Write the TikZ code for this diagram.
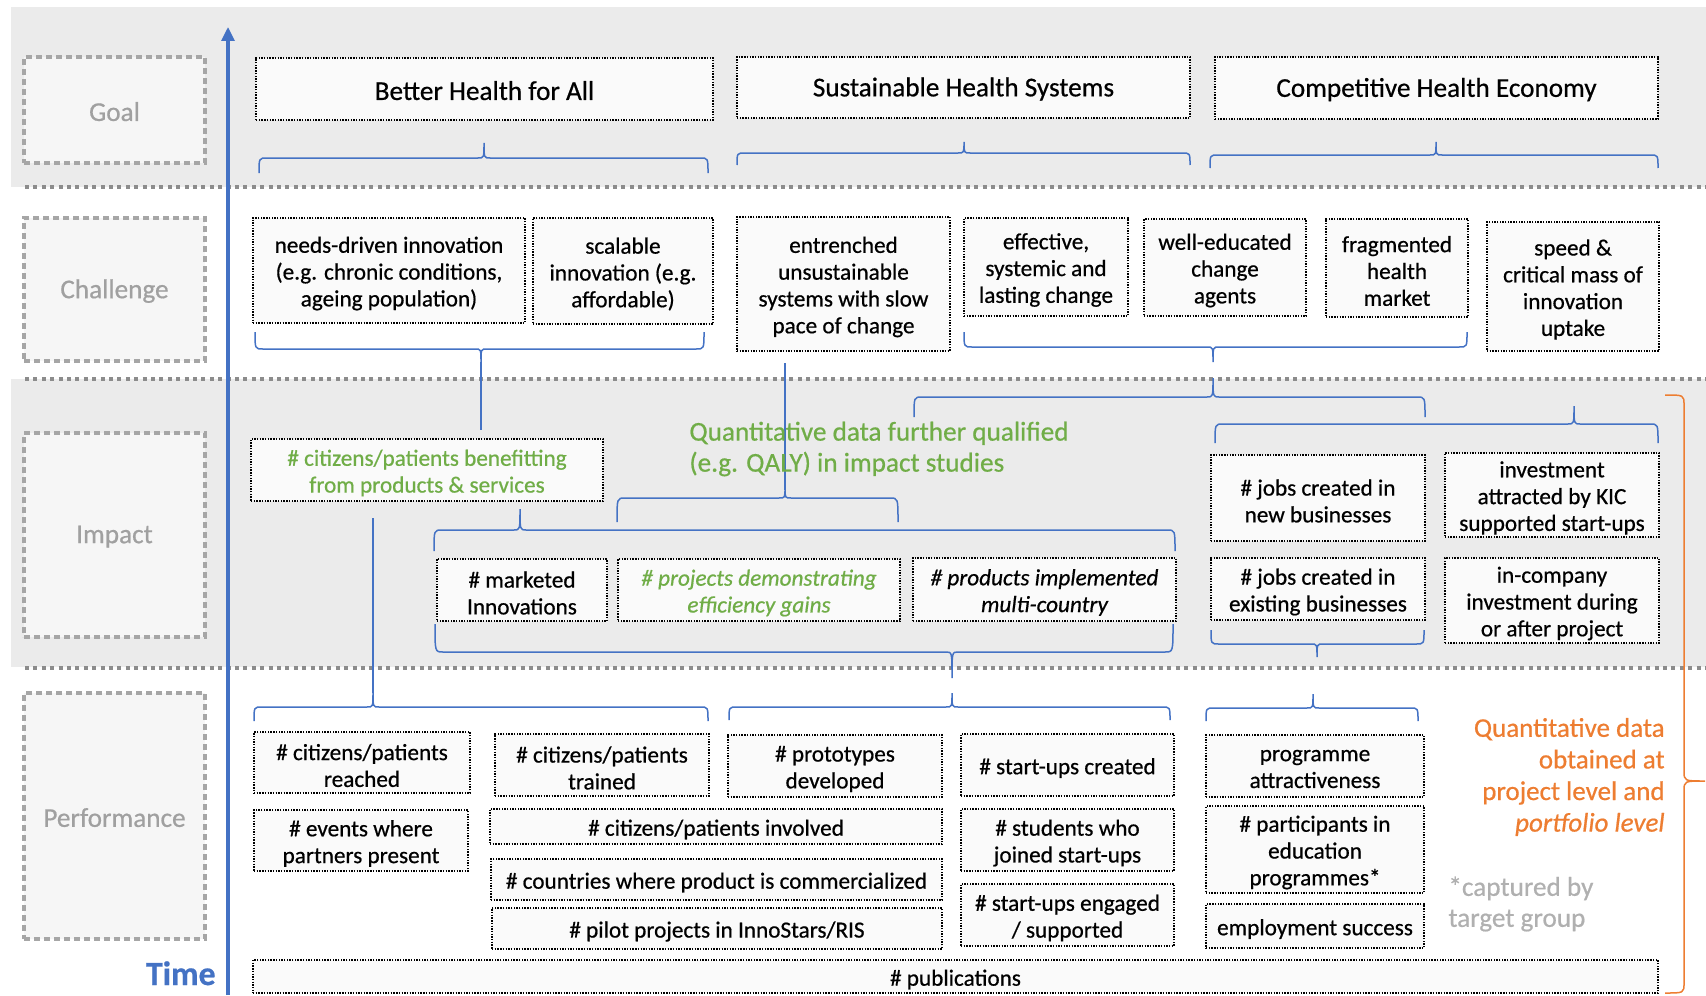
\documentclass[tikz,border=0pt]{standalone}
\usepackage{fontspec}
\setmainfont{Carlito}[FakeBold=0.6]
\usetikzlibrary{arrows.meta}
\definecolor{bandgray}{HTML}{EBEBEB}
\definecolor{boxfill}{HTML}{FAFAFA}
\definecolor{lblfill}{HTML}{F6F6F6}
\definecolor{lblgray}{HTML}{A6A6A6}
\definecolor{lbltext}{HTML}{A0A0A0}
\definecolor{sepgray}{HTML}{8C8C8C}
\definecolor{braceblue}{HTML}{4472C4}
\definecolor{qgreen}{HTML}{70AD47}
\definecolor{qorange}{HTML}{ED7D31}
\definecolor{notegray}{HTML}{B0B0B0}
\newcommand{\bodyfont}{\fontsize{11.6}{13.4}\selectfont}
\tikzset{
  box/.style={draw=black, line width=1pt, dash pattern=on 0.7pt off 0.65pt, fill=boxfill, inner sep=0pt},
  boxtext/.style={inner sep=0pt, align=center, font=\bodyfont, yshift=-1.5pt},
  title/.style={font=\fontsize{13.6}{15.5}\selectfont, yshift=0.7pt},
  lbl/.style={draw=lblgray, line width=2pt, dash pattern=on 3pt off 2pt, fill=lblfill, inner sep=0pt},
  lbltxt/.style={text=lbltext, font=\fontsize{13.6}{15.5}\selectfont, inner sep=0pt, yshift=-0.8pt},
  greentext/.style={text=qgreen},
  greenit/.style={text=qgreen, font=\bodyfont\itshape},
  itbox/.style={font=\bodyfont\itshape},
  sep/.style={draw=sepgray, line width=2pt, dash pattern=on 2pt off 2.2pt},
  brace/.style={draw=braceblue, line width=0.75pt},
  obrace/.style={draw=qorange, line width=0.75pt},
  timeax/.style={draw=braceblue, line width=1.6pt, -{Triangle[width=6.5pt,length=7pt]}},
}
% box: [text style] name x1 y1 x2 y2 text
\newcommand{\bx}[7][]{\node[box,minimum width={(#5-#3)*0.5pt},minimum height={(#6-#4)*0.5pt}] (#2) at ({(#3+#5)/2},{(#4+#6)/2}) {};
  \node[boxtext,#1] (#2-t) at (#2.center) {#7};}
% label box: name x1 y1 x2 y2 text
\newcommand{\lb}[6]{\node[lbl,minimum width={(#4-#2)*0.5pt},minimum height={(#5-#3)*0.5pt}] (#1) at ({(#2+#4)/2},{(#3+#5)/2}) {};
  \node[lbltxt] (#1-t) at (#1.center) {#6};}
% brace: x1 x2 yend yh xtip ytip
\newcommand{\hbr}[6]{\draw[brace] (#1,#3) .. controls (#1,#4) .. ({#1+8},#4) -- ({#5-6},#4) .. controls (#5,#4) .. (#5,#6) .. controls (#5,#4) .. ({#5+6},#4) -- ({#2-8},#4) .. controls (#2,#4) .. (#2,#3);}
\begin{document}
\begin{tikzpicture}[x=0.5pt,y=-0.5pt]
\useasboundingbox (0,0) rectangle (1706,995);
% bands
\fill[bandgray] (11,7) rectangle (1706,187);
\fill[bandgray] (11,379) rectangle (1706,667);
\draw[sep] (25,187) -- (1706,187);
\draw[sep] (25,379) -- (1706,379);
\draw[sep] (25,668) -- (1706,668);
% time axis
\coordinate (tb) at (228,995);
\coordinate (tt) at (228,27);
\draw[timeax] (tb) -- (tt);
\node[anchor=base east, text=braceblue, font=\fontsize{16.9}{19}\selectfont\bfseries, inner sep=0pt] (time) at (216,985) {Time};
% left labels
\lb{lgoal}{24}{57}{205}{163}{Goal}
\lb{lchal}{24}{218}{205}{361}{Challenge}
\lb{limp}{24}{433}{205}{637}{Impact}
\lb{lperf}{24}{693}{205}{939}{Performance}
% braces
\hbr{259}{708}{173}{158}{484}{143}
\hbr{737}{1190}{165}{153}{964}{142}
\hbr{1210}{1658}{168}{155}{1436}{142}
\hbr{255}{704}{332}{349}{481}{362}
\hbr{964}{1467}{332}{347}{1213}{362}
\hbr{617}{898}{522}{498}{785}{488}
\hbr{434}{1175}{551}{530}{520}{509}
\hbr{435}{1173}{624}{652}{952}{678}
\hbr{914}{1425}{417}{397}{1213}{378}
\hbr{1215}{1658}{443}{424}{1574}{406}
\hbr{1211}{1424}{630}{644}{1317}{657}
\hbr{254}{708}{721}{707}{373}{693}
\hbr{729}{1170}{720}{707}{952}{693}
\hbr{1206}{1418}{721}{708}{1313}{694}
\draw[brace] (481,362) -- (481,430);
\draw[brace] (785,363) -- (785,490);
\draw[brace] (373,518) -- (373,693);
% orange brace
\draw[obrace] (1665,395) .. controls (1684,395) .. (1684,405) -- (1684,771) .. controls (1684,781) .. (1705,781) .. controls (1684,781) .. (1684,791) -- (1684,983) .. controls (1684,993) .. (1665,993);
% goal boxes
\bx[title]{g1}{256}{58}{713}{120}{Better Health for All}
\bx[title]{g2}{737}{57}{1190}{118}{Sustainable Health Systems}
\bx[title]{g3}{1215}{57}{1658}{119}{Competitive Health Economy}
% challenge
\bx{c1}{253}{218}{525}{323}{needs-driven innovation\\(e.g. chronic conditions,\\ageing population)}
\bx{c2}{533}{218}{713}{324}{scalable\\innovation (e.g.\\affordable)}
\bx{c3}{737}{217}{950}{351}{entrenched\\unsustainable\\systems with slow\\pace of change}
\bx{c4}{964}{218}{1128}{316}{effective,\\systemic and\\lasting change}
\bx{c5}{1144}{219}{1306}{316}{well-educated\\change\\agents}
\bx{c6}{1326}{219}{1468}{317}{fragmented\\health\\market}
\bx{c7}{1487}{222}{1659}{351}{speed \&\\critical mass of\\innovation\\uptake}
% impact
\bx[greentext]{i1}{251}{439}{603}{501}{\# citizens/patients benefitting\\from products \& services}
\bx{i2}{437}{559}{607}{621}{\# marketed\\Innovations}
\bx[greenit]{i3}{618}{559}{900}{621}{\# projects demonstrating\\efficiency gains}
\bx[itbox]{i4}{913}{558}{1176}{621}{\# products implemented\\multi-country}
\bx{i5}{1211}{455}{1425}{541}{\# jobs created in\\new businesses}
\bx{i6}{1445}{453}{1659}{537}{investment\\attracted by KIC\\supported start-ups}
\bx{i7}{1211}{558}{1425}{620}{\# jobs created in\\existing businesses}
\bx{i8}{1445}{558}{1659}{643}{in-company\\investment during\\or after project}
\node[anchor=west, align=left, text=qgreen, font=\fontsize{13.6}{15.5}\selectfont, inner sep=0pt] (qtext) at (689,449) {Quantitative data further qualified\\(e.g. QALY) in impact studies};
% performance
\bx{p1}{254}{732}{470}{793}{\# citizens/patients\\reached}
\bx{p2}{495}{734}{709}{796}{\# citizens/patients\\trained}
\bx{p3}{728}{735}{942}{797}{\# prototypes\\developed}
\bx{p4}{961}{734}{1174}{796}{\# start-ups created}
\bx{p5}{254}{810}{468}{871}{\# events where\\partners present}
\bx{p6}{490}{809}{942}{844}{\# citizens/patients involved}
\bx{p7}{961}{809}{1174}{871}{\# students who\\joined start-ups}
\bx{p8}{491}{859}{942}{900}{\# countries where product is commercialized}
\bx{p9}{961}{884}{1174}{946}{\# start-ups engaged\\/ supported}
\bx{p10}{492}{908}{942}{949}{\# pilot projects in InnoStars/RIS}
\bx{p11}{1206}{735}{1424}{797}{programme\\attractiveness}
\bx{p12}{1206}{806}{1424}{893}{\# participants in\\education\\programmes*}
\bx{p13}{1206}{904}{1424}{948}{employment success}
\bx{p14}{253}{960}{1658}{993}{\# publications}
\node[anchor=east, align=right, text=qorange, font=\fontsize{13.5}{15.8}\selectfont, inner sep=0pt] (otext) at (1665,777) {Quantitative data\\obtained at\\project level and\\\textit{portfolio level}};
\node[anchor=west, align=left, text=notegray, font=\fontsize{13.6}{15.5}\selectfont, inner sep=0pt] (note) at (1448,904) {*captured by\\target group};
\end{tikzpicture}
\end{document}
